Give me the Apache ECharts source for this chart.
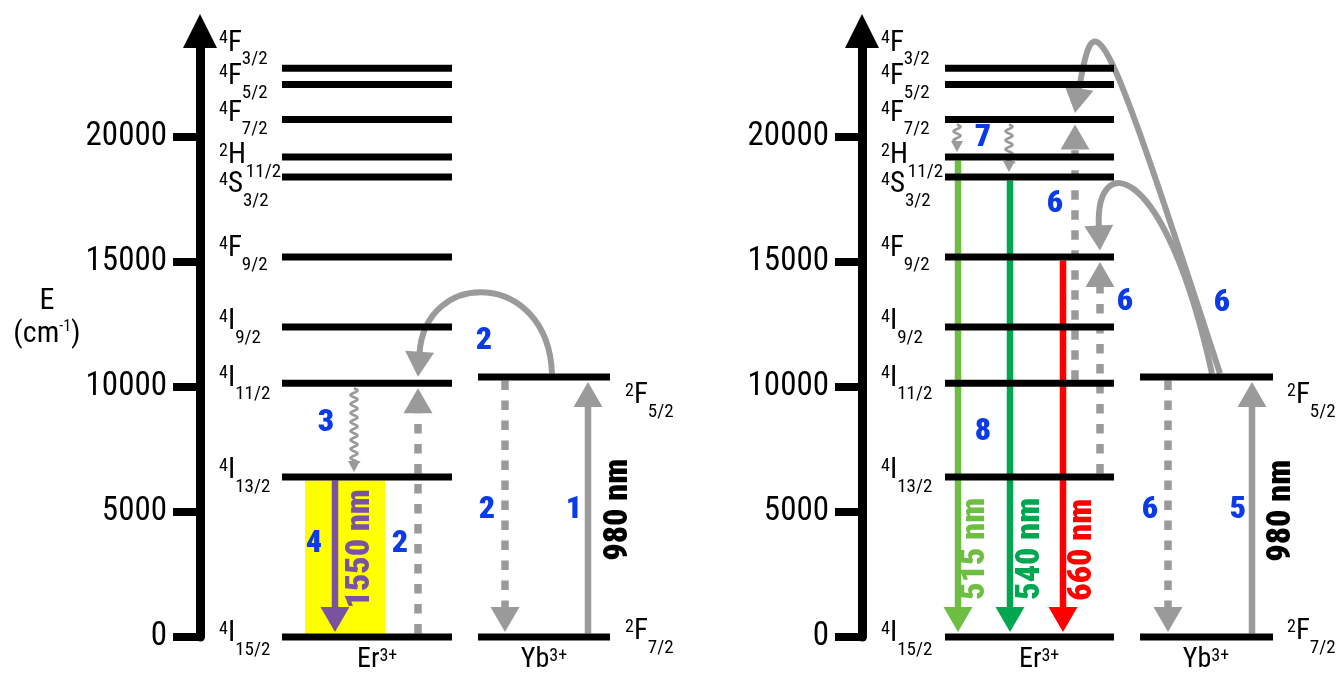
<!DOCTYPE html>
<html><head><meta charset="utf-8">
<script src="https://cdn.jsdelivr.net/npm/echarts@6/dist/echarts.min.js"></script>
<style>html,body{margin:0;padding:0;background:#fff}#c{width:1339px;height:677px}</style>
</head><body><div id="c"></div>
<script>
const FONT = '"Noto Sans Condensed","Roboto Condensed","Liberation Sans Narrow","Arial Narrow","DejaVu Sans Condensed",sans-serif';

// ---------------- data ----------------
const energyTicks = [0, 5000, 10000, 15000, 20000];
const energyMax = 24240;
const erTerms = [['4','I','15/2'],['4','I','13/2'],['4','I','11/2'],['4','I','9/2'],['4','F','9/2'],
                 ['4','S','3/2'],['2','H','11/2'],['4','F','7/2'],['4','F','5/2'],['4','F','3/2']];
const erEnergies = [0, 6400, 10150, 12400, 15200, 18400, 19200, 20700, 22100, 22750];
const ybTerms = [['2','F','7/2'],['2','F','5/2']];
const ybEnergies = [0, 10400];
const ionNames = [['Er','3+'], ['Yb','3+']];
// [panel, id, kind, fromEnergy, toEnergy, colour]
const transitions = [
  [0, 'ybAbs',    'arrow',  0,     10400, 'gray'],
  [0, 'ybEt',     'dashed', 10400, 0,     'gray'],
  [0, 'erEt',     'dashed', 0,     10150, 'gray'],
  [0, 'etCurve',  'curve',  10400, 10150, 'gray'],
  [0, 'relax',    'wavy',   10150, 6400,  'gray'],
  [0, 'em1550',   'arrow',  6400,  0,     'purple'],
  [1, 'ybAbs',    'arrow',  0,     10400, 'gray'],
  [1, 'ybEt',     'dashed', 10400, 0,     'gray'],
  [1, 'erEt1',    'dashed', 10150, 20700, 'gray'],
  [1, 'erEt2',    'dashed', 6400,  15200, 'gray'],
  [1, 'etCurve1', 'curve',  10400, 20700, 'gray'],
  [1, 'etCurve2', 'curve',  10400, 15200, 'gray'],
  [1, 'relax1',   'wavy',   20700, 19200, 'gray'],
  [1, 'relax2',   'wavy',   20700, 18400, 'gray'],
  [1, 'em515',    'arrow',  19200, 0,     'lightgreen'],
  [1, 'em540',    'arrow',  18400, 0,     'green'],
  [1, 'em660',    'arrow',  15200, 0,     'red']
];
const highlightBand = [0, 0, 6400];               // [panel, fromEnergy, toEnergy]
const stepNumbers = [['4','2','3','2','2','1'], ['7','6','6','6','8','6','5']];
const wavelengthLabels = [
  [['em1550','1550 nm'], ['ybAbs','980 nm']],
  [['ybAbs','980 nm'], ['em515','515 nm'], ['em540','540 nm'], ['em660','660 nm']]
];

// ---------------- layout / style ----------------
const COLORS = {gray:'#9a9a9a', purple:'#7a52a2', lightgreen:'#6fbe44', green:'#00a650',
                red:'#ff0000', blue:'#0b3be6', yellow:'#ffff00', black:'#000000'};
const L = {
  erSpan: [[82, 252], [83, 252]],
  ybSpan: [[278, 410], [278, 411]],
  erLabelX: 19, ybLabelX: 425,
  erLabelShift: [-3, -6, -5, -5, -8, 8, -1, -6, -7.5, -25],
  ybLabelShift: [-5, 19],
  lineHalf: 3.5,
  trans: [
    {ybAbs:{x:388}, ybEt:{x:305}, erEt:{x:218}, relax:{x:154}, em1550:{x:135},
     etCurve:{x0:352, x1:218, c1:[348,14690], c2:[225,14770]}},
    {ybAbs:{x:390}, ybEt:{x:306}, erEt1:{x:213}, erEt2:{x:238}, relax1:{x:95}, relax2:{x:147},
     em515:{x:96}, em540:{x:148}, em660:{x:201},
     etCurve1:{x0:358, x1:213, c1:[238,25292], c2:[232,25492]},
     etCurve2:{x0:350, x1:238, c1:[303,19092], c2:[233,19492]}}
  ],
  band: [105, 185],
  stepPos: [
    [[114,3730],[200,3730],[126,8570],[284,11850],[287,5090],[374,5090]],
    [[121,19970],[193,17330],[263,13410],[360,13370],[121,8210],[288,5090],[376,5090]]
  ],
  wavePos: [
    [[160,3530],[418,5090]],
    [[419,5050],[113,3530],[168,3530],[220,3490]]
  ],
  ionX: [157, 344]
};

function termText(t) { return '{sup|' + t[0] + '}{base|' + t[1] + '}{sub|' + t[2] + '}'; }
const termRich = {
  sup:  {fontSize:18, fontFamily:FONT, fill:'#000', padding:[0,0,9,0]},
  base: {fontSize:29, fontFamily:FONT, fill:'#000'},
  sub:  {fontSize:19, fontFamily:FONT, fill:'#000', padding:[32,0,0,0]}
};

function head(tip, dir, w, l, color) {
  const bx = tip[0] - dir[0]*l, by = tip[1] - dir[1]*l;
  const nx = -dir[1], ny = dir[0];
  return {type:'polygon', shape:{points:[[tip[0],tip[1]],[bx+nx*w/2,by+ny*w/2],[bx-nx*w/2,by-ny*w/2]]},
          style:{fill:color}};
}

function levelSeries(p) {
  const items = [], meta = [];
  erEnergies.forEach((E,i)=>{ items.push([L.erSpan[p][0], E]); meta.push({span:L.erSpan[p], term:erTerms[i], shift:L.erLabelShift[i], lx:L.erLabelX}); });
  ybEnergies.forEach((E,i)=>{ items.push([L.ybSpan[p][0], E]); meta.push({span:L.ybSpan[p], term:ybTerms[i], shift:L.ybLabelShift[i], lx:L.ybLabelX}); });
  return {
    type:'custom', xAxisIndex:p, yAxisIndex:p, z:5, clip:false, silent:true, data:items,
    renderItem(params, api) {
      const m = meta[params.dataIndex];
      const E = api.value(1);
      const a = api.coord([m.span[0], E]), b = api.coord([m.span[1], E]);
      const lx = api.coord([m.lx, E])[0];
      return {type:'group', children:[
        {type:'line', shape:{x1:a[0], y1:a[1], x2:b[0], y2:b[1]}, style:{stroke:'#000', lineWidth:7}},
        {type:'text', x:lx, y:a[1] + m.shift, style:{text:termText(m.term), align:'left', verticalAlign:'middle',
          fontFamily:FONT, fontSize:29, fill:'#000', rich:termRich}}
      ]};
    }
  };
}

function transitionSeries(p) {
  const list = transitions.filter(t => t[0] === p);
  return {
    type:'custom', xAxisIndex:p, yAxisIndex:p, z:3, clip:false, silent:true,
    data: list.map(t => [0, t[3], t[4]]),
    renderItem(params, api) {
      const t = list[params.dataIndex];
      const g = L.trans[p][t[1]];
      const kind = t[2], E0 = api.value(1), E1 = api.value(2), color = COLORS[t[5]];
      const up = E1 > E0;
      if (kind === 'arrow' || kind === 'dashed') {
        const s = api.coord([g.x, E0]), e = api.coord([g.x, E1]);
        const sy = s[1] + (up ? -L.lineHalf : L.lineHalf);
        const ty = e[1] + (up ? 5 : -5);
        const hl = 25, hw = 29;
        const by = ty + (up ? hl : -hl);
        const ly = kind === 'dashed' ? by : by + (up ? -2 : 2);
        return {type:'group', children:[
          {type:'line', shape:{x1:s[0], y1:sy, x2:s[0], y2:ly},
           style:{stroke:color, lineWidth: kind === 'dashed' ? 7.5 : 6.5, lineDash: kind === 'dashed' ? [9.5,10.5] : null}},
          head([e[0], ty], [0, up ? -1 : 1], hw, hl, color)
        ]};
      }
      if (kind === 'curve') {
        const s = api.coord([g.x0, E0]); s[1] -= L.lineHalf;
        const tip = api.coord([g.x1, E1]); tip[1] -= 6.5;
        const c1 = api.coord(g.c1), c2 = api.coord(g.c2);
        let dx = tip[0]-c2[0], dy = tip[1]-c2[1]; const n = Math.hypot(dx,dy); dx/=n; dy/=n;
        const hl = 25;
        const bx = tip[0]-dx*(hl-2), by = tip[1]-dy*(hl-2);
        return {type:'group', children:[
          {type:'bezierCurve', shape:{x1:s[0], y1:s[1], cpx1:c1[0], cpy1:c1[1], cpx2:c2[0], cpy2:c2[1], x2:bx, y2:by},
           style:{stroke:color, lineWidth:6, fill:null}},
          head(tip, [dx,dy], 29, hl, color)
        ]};
      }
      if (kind === 'wavy') {
        const s = api.coord([g.x, E0]), e = api.coord([g.x, E1]);
        const sy = s[1] + 5, ty = e[1] - 5, hl = 11;
        const by = ty - hl + 1;
        const pts = [];
        for (let y = sy; y <= by; y += 0.5) pts.push([s[0] + 3.5*Math.sin(2*Math.PI*(y - sy)/9), y]);
        pts.push([s[0], by]);
        return {type:'group', children:[
          {type:'polyline', shape:{points:pts}, style:{stroke:color, lineWidth:2.5, fill:null}},
          head([s[0], ty], [0,1], 12, hl, color)
        ]};
      }
      return null;
    }
  };
}

function bandSeries() {
  const p = highlightBand[0];
  return {
    type:'custom', xAxisIndex:p, yAxisIndex:p, z:2, clip:false, silent:true,
    data:[[L.band[0], highlightBand[1], highlightBand[2]]],
    renderItem(params, api) {
      const a = api.coord([L.band[0], api.value(2)]), b = api.coord([L.band[1], api.value(1)]);
      return {type:'rect', shape:{x:a[0], y:a[1] + L.lineHalf, width:b[0]-a[0], height:b[1]-a[1]-L.lineHalf},
              style:{fill:COLORS.yellow}};
    }
  };
}

function textSeries(p) {
  const items = [], meta = [];
  stepNumbers[p].forEach((s,i)=>{ items.push(L.stepPos[p][i]); meta.push({kind:'step', text:s}); });
  wavelengthLabels[p].forEach((w,i)=>{
    const tr = transitions.find(t => t[0]===p && t[1]===w[0]);
    items.push(L.wavePos[p][i]);
    meta.push({kind:'wave', text:w[1], color: w[0]==='ybAbs' ? COLORS.black : COLORS[tr[5]]});
  });
  ionNames.forEach((n,i)=>{ items.push([L.ionX[i], 0]); meta.push({kind:'ion', name:n, idx:i}); });
  return {
    type:'custom', xAxisIndex:p, yAxisIndex:p, z:6, clip:false, silent:true, data:items,
    renderItem(params, api) {
      const m = meta[params.dataIndex];
      const c = api.coord([api.value(0), api.value(1)]);
      if (m.kind === 'step') {
        return {type:'text', x:c[0], y:c[1], style:{text:m.text, align:'center', verticalAlign:'middle',
          fontFamily:FONT, fontWeight:900, fontSize:32, fill:COLORS.blue}};
      }
      if (m.kind === 'wave') {
        return {type:'text', x:c[0], y:c[1], rotation:Math.PI/2, style:{text:m.text, align:'center', verticalAlign:'middle',
          fontFamily:FONT, fontWeight:900, fontSize:34, fill:m.color}};
      }
      return {type:'text', x:c[0], y:c[1] + 23, style:{text:'{b|' + m.name[0] + '}{s|' + m.name[1] + '}',
        align: m.idx === 0 ? 'left' : 'center', verticalAlign:'middle', fontFamily:FONT, fontSize:28, fill:'#000',
        rich:{b:{fontSize:28, fontFamily:FONT, fill:'#000'}, s:{fontSize:18, fontFamily:FONT, fill:'#000', padding:[0,0,8,0]}}}};
    }
  };
}

const chart = echarts.init(document.getElementById('c'), null, {renderer:'canvas'});
chart.setOption({
  animation:false,
  backgroundColor:'#fff',
  grid:[
    {left:200, top:31, width:460, bottom:40, outerBoundsMode:'none'},
    {left:862, top:31, width:460, bottom:40, outerBoundsMode:'none'}
  ],
  xAxis:[0,1].map(p => ({type:'value', gridIndex:p, min:0, max:460, show:false})),
  yAxis:[0,1].map(p => ({
    type:'value', gridIndex:p, min:0, max:energyMax, position:'left',
    axisLine:{show:true, onZero:false, symbol:['none','triangle'], symbolSize:[34,34], lineStyle:{color:'#000', width:9}},
    axisTick:{show:true, length:27, customValues:energyTicks, lineStyle:{color:'#000', width:8}},
    axisLabel:{show:true, margin:33, customValues:energyTicks, formatter:v => String(v),
      fontFamily:FONT, fontSize:33, color:'#000'},
    splitLine:{show:false},
    name: p === 0 ? '{e|E}\n{p|(cm}{s|-1}{p|)}' : '',
    nameLocation:'middle', nameGap:153, nameRotate:0, nameMoveOverlap:false,
    nameTextStyle:{align:'center', verticalAlign:'middle', padding:[0,0,32,0], fontFamily:FONT, fontSize:30, lineHeight:33, color:'#000',
      rich:{e:{fontSize:30, fontFamily:FONT, color:'#000'}, p:{fontSize:30, fontFamily:FONT, color:'#000'},
            s:{fontSize:16, fontFamily:FONT, color:'#000', padding:[0,0,16,0]}}}
  })),
  series:[bandSeries(), transitionSeries(0), transitionSeries(1), levelSeries(0), levelSeries(1), textSeries(0), textSeries(1)]
});
</script></body></html>
